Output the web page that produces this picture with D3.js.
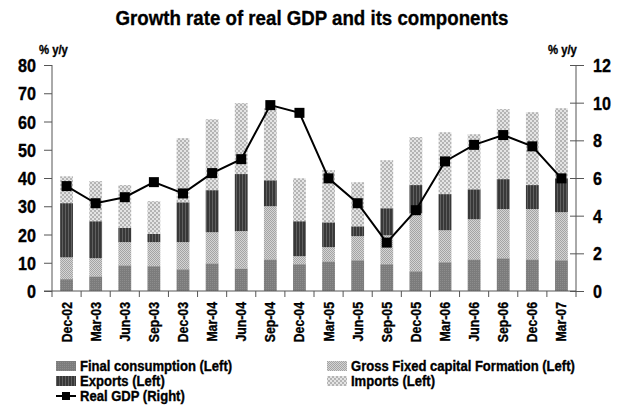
<!DOCTYPE html>
<html>
<head>
<meta charset="utf-8">
<script src="https://cdn.jsdelivr.net/npm/d3@7/dist/d3.min.js"></script>
<style>
  html, body { margin: 0; padding: 0; background: #fff; }
  svg { display: block; }
  text { font-family: "Liberation Sans", Arial, sans-serif; font-weight: bold; fill: #000; stroke: #000; stroke-width: 0.35px; }
</style>
</head>
<body>
<svg id="chart" width="624" height="405"></svg>
<script>
// Quarterly periods
const periods = ["Dec-02","Mar-03","Jun-03","Sep-03","Dec-03","Mar-04","Jun-04","Sep-04","Dec-04",
                 "Mar-05","Jun-05","Sep-05","Dec-05","Mar-06","Jun-06","Sep-06","Dec-06","Mar-07"];

// Contributions, % y/y (left axis), stacked in this order
const finalConsumption = [4.2, 5.2, 9.1, 8.8, 7.7, 9.8, 8.0, 11.2, 9.5, 10.5, 10.9, 9.5, 7.0, 10.2, 11.2, 11.6, 11.2, 10.9];
const gfcf             = [7.7, 6.4, 8.2, 8.5, 9.6, 11.0, 13.2, 18.8, 2.8, 5.0, 8.5, 10.2, 20.5, 11.3, 14.2, 17.4, 17.8, 17.0];
const exportsVals      = [19.2, 13.1, 5.0, 2.9, 14.1, 14.9, 20.2, 9.2, 12.4, 8.8, 3.5, 9.6, 10.0, 12.8, 10.6, 10.6, 8.5, 12.0];
const importsVals      = [9.5, 14.2, 15.2, 11.6, 22.7, 25.1, 25.1, 25.5, 15.2, 18.5, 15.6, 17.0, 17.0, 21.9, 19.5, 24.8, 25.8, 24.8];

// Real GDP growth, % y/y (right axis)
const realGDP = [5.57, 4.66, 4.98, 5.78, 5.18, 6.26, 7.0, 9.87, 9.46, 5.98, 4.66, 2.57, 4.29, 6.88, 7.76, 8.28, 7.68, 5.98];

// Axis ticks
const leftTicks = [0, 10, 20, 30, 40, 50, 60, 70, 80];
const rightTicks = [0, 2, 4, 6, 8, 10, 12];

const seriesKeys = ["fc", "gfcf", "exp", "imp"];
const seriesNames = {
  fc: "Final consumption (Left)",
  gfcf: "Gross Fixed capital Formation (Left)",
  exp: "Exports (Left)",
  imp: "Imports (Left)"
};

const rows = periods.map((p, i) => ({
  period: p,
  fc: finalConsumption[i],
  gfcf: gfcf[i],
  exp: exportsVals[i],
  imp: importsVals[i],
  gdp: realGDP[i]
}));

const svg = d3.select("#chart");
const defs = svg.append("defs");

// Condensed bold label: text squeezed horizontally by factor k
function label(parent, x, y, str, size, k, anchor, rot) {
  return parent.append("text")
    .attr("transform", `translate(${x},${y})` + (rot ? ` rotate(${rot})` : "") + ` scale(${k},1)`)
    .attr("text-anchor", anchor || "start")
    .style("font-size", size + "px")
    .text(str);
}

// Fill patterns for each component
function pattern(id, size, bg, draw) {
  const p = defs.append("pattern").attr("id", id)
    .attr("patternUnits", "userSpaceOnUse").attr("width", size).attr("height", size);
  p.append("rect").attr("width", size).attr("height", size).attr("fill", bg);
  draw(p);
}
pattern("pat-fc", 2, "#7c7c7c", p => {
  p.append("rect").attr("x", 0).attr("y", 0).attr("width", 1).attr("height", 1).attr("fill", "#8c8c8c");
});
pattern("pat-gfcf", 2, "#d4d4d4", p => {
  p.append("rect").attr("x", 0).attr("y", 0).attr("width", 1).attr("height", 1).attr("fill", "#a4a4a4");
  p.append("rect").attr("x", 1).attr("y", 1).attr("width", 1).attr("height", 1).attr("fill", "#a4a4a4");
});
pattern("pat-exp", 3, "#383838", p => {
  p.append("rect").attr("x", 2).attr("y", 0).attr("width", 1).attr("height", 3).attr("fill", "#606060");
});
pattern("pat-imp", 4, "#e4e4e4", p => {
  p.append("rect").attr("x", 0).attr("y", 0).attr("width", 2).attr("height", 2).attr("fill", "#b4b4b4");
  p.append("rect").attr("x", 2).attr("y", 2).attr("width", 2).attr("height", 2).attr("fill", "#b4b4b4");
});
const fills = { fc: "url(#pat-fc)", gfcf: "url(#pat-gfcf)", exp: "url(#pat-exp)", imp: "url(#pat-imp)" };

const plot = { left: 52, right: 576, top: 65, bottom: 291 };

const x = d3.scaleBand().domain(periods).range([plot.left, plot.right]).paddingInner(0.56).paddingOuter(0.28);
const yL = d3.scaleLinear().domain([0, 80]).range([plot.bottom, plot.top]);
const yR = d3.scaleLinear().domain([0, 12]).range([plot.bottom, plot.top]);

// Title
label(svg, 312, 25, "Growth rate of real GDP and its components", 21, 0.89, "middle");

// Unit labels
label(svg, 39, 54, "% y/y", 13, 0.87, "start");
label(svg, 548, 54, "% y/y", 13, 0.87, "start");

// Stacked bars
const stack = d3.stack().keys(seriesKeys)(rows);
svg.append("g").selectAll("g").data(stack).join("g")
  .attr("fill", d => fills[d.key])
  .selectAll("rect").data(d => d).join("rect")
  .attr("x", d => x(d.data.period))
  .attr("width", x.bandwidth())
  .attr("y", d => yL(d[1]))
  .attr("height", d => yL(d[0]) - yL(d[1]));

// Left axis
const gL = svg.append("g").attr("transform", `translate(${plot.left},0)`)
  .call(d3.axisLeft(yL).tickValues(leftTicks).tickSize(8).tickFormat(""));
gL.select(".domain").attr("stroke", "#555").attr("d", `M0,${plot.bottom + 6}V${plot.top}`);
gL.selectAll(".tick line").attr("stroke", "#555");
leftTicks.forEach(v => label(svg, 36, yL(v) + 7, d3.format("d")(v), 19, 0.85, "end"));

// Right axis (ticks cross the axis line)
const gR = svg.append("g").attr("transform", `translate(${plot.right},0)`)
  .call(d3.axisRight(yR).tickValues(rightTicks).tickSize(8).tickFormat(""));
gR.select(".domain").attr("stroke", "#555").attr("d", `M0,${plot.bottom + 6}V${plot.top}`);
gR.selectAll(".tick line").attr("stroke", "#555").attr("x1", -6);
rightTicks.forEach(v => label(svg, 593, yR(v) + 7, d3.format("d")(v), 19, 0.85, "start"));

// Bottom axis: tick marks at category boundaries, labels rotated
const gB = svg.append("g").attr("transform", `translate(0,${plot.bottom})`);
gB.append("line").attr("x1", plot.left - 8).attr("x2", plot.right).attr("stroke", "#555");
const step = x.step();
gB.selectAll("line.tk").data(periods.slice(1)).join("line").attr("class", "tk")
  .attr("x1", d => x(d) + x.bandwidth() / 2 - step / 2)
  .attr("x2", d => x(d) + x.bandwidth() / 2 - step / 2)
  .attr("y1", 0).attr("y2", 6).attr("stroke", "#555");
periods.forEach(p => label(svg, x(p) + x.bandwidth() / 2 + 5, plot.bottom + 11, p, 15, 0.82, "end", -90));

// Real GDP line with square markers
const line = d3.line().x(d => x(d.period) + x.bandwidth() / 2).y(d => yR(d.gdp));
svg.append("path").datum(rows).attr("d", line).attr("fill", "none").attr("stroke", "#000").attr("stroke-width", 2);
svg.append("g").selectAll("rect").data(rows).join("rect")
  .attr("x", d => x(d.period) + x.bandwidth() / 2 - 5)
  .attr("y", d => yR(d.gdp) - 5)
  .attr("width", 10).attr("height", 10).attr("fill", "#000");

// Legend
const legendItems = [
  { key: "fc", col: 0, row: 0 },
  { key: "gfcf", col: 1, row: 0 },
  { key: "exp", col: 0, row: 1 },
  { key: "imp", col: 1, row: 1 }
];
const colX = [56, 327];
const rowY = [366, 381, 396];
const lg = svg.append("g");
legendItems.forEach(it => {
  lg.append("rect").attr("x", colX[it.col]).attr("y", rowY[it.row] - 5)
    .attr("width", 20).attr("height", 10).attr("fill", fills[it.key]);
  label(lg, colX[it.col] + 24, rowY[it.row] + 5, seriesNames[it.key], 14.5, 0.9, "start");
});
lg.append("line").attr("x1", 56).attr("x2", 76).attr("y1", rowY[2]).attr("y2", rowY[2]).attr("stroke", "#000").attr("stroke-width", 2);
lg.append("rect").attr("x", 62).attr("y", rowY[2] - 4).attr("width", 8).attr("height", 8).attr("fill", "#000");
label(lg, 80, rowY[2] + 5, "Real GDP (Right)", 14.5, 0.9, "start");
</script>
</body>
</html>
